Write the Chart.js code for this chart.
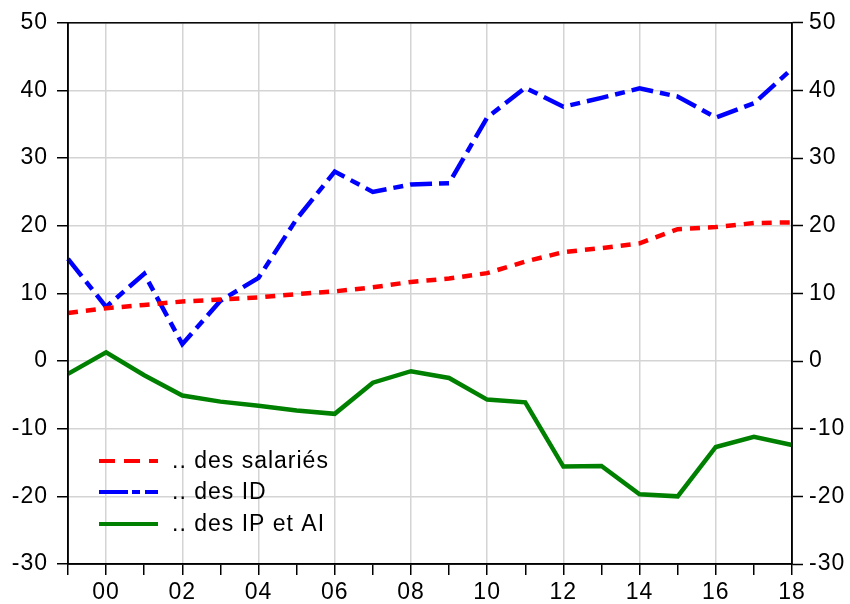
<!DOCTYPE html>
<html>
<head>
<meta charset="utf-8">
<script src="https://cdn.jsdelivr.net/npm/chart.js@4"></script>
<style>
  body { margin: 0; background: #fff; }
  #wrap { width: 850px; height: 604px; }
</style>
</head>
<body>
<div id="wrap"><canvas id="canvas-1" width="850" height="604"></canvas></div>
<script>
var years = ['1999','2000','2001','2002','2003','2004','2005','2006','2007','2008',
             '2009','2010','2011','2012','2013','2014','2015','2016','2017','2018'];

var salaries = [7.1, 7.8, 8.3, 8.8, 9.1, 9.4, 9.9, 10.3, 10.9, 11.7,
                12.2, 13.0, 14.7, 16.1, 16.7, 17.4, 19.5, 19.8, 20.4, 20.5];
var idValues = [15.1, 8.0, 12.9, 2.5, 8.9, 12.3, 21.0, 28.0, 25.0, 26.1,
                26.3, 36.0, 40.4, 37.6, 38.9, 40.3, 39.1, 36.0, 38.1, 43.2];
var ipAi = [-1.9, 1.3, -2.1, -5.1, -6.0, -6.6, -7.3, -7.8, -3.2, -1.5,
            -2.5, -5.7, -6.1, -15.6, -15.5, -19.7, -20.0, -12.7, -11.2, -12.4];

var seriesNames = ['.. des salariés', '.. des ID', '.. des IP et AI'];
var yMin = -30, yMax = 50, yStep = 10;

var font = { family: "'Liberation Sans', Arial, sans-serif", size: 23 };

var frame = {
  id: 'frame',
  beforeDraw: function(chart){
    chart.ctx.letterSpacing = '1px';
  },
  afterDatasetsDraw: function(chart){
    var ctx = chart.ctx, a = chart.chartArea;
    ctx.save();
    ctx.strokeStyle = '#000';
    ctx.lineWidth = 1.5;
    ctx.strokeRect(a.left, a.top, a.right - a.left, a.bottom - a.top);

    // legend inside the plot
    var rows = [
      { c: '#ff0000', dash: [16, 9], y: 461 },
      { c: '#0000ff', dash: [29, 4, 8, 5], y: 492 },
      { c: '#008000', dash: [], y: 524 }
    ];
    ctx.font = font.size + 'px ' + font.family;
    ctx.textBaseline = 'middle';
    ctx.fillStyle = '#000';
    rows.forEach(function(r, i){
      ctx.beginPath();
      ctx.setLineDash(r.dash);
      ctx.strokeStyle = r.c;
      ctx.lineWidth = 4;
      ctx.moveTo(99, r.y);
      ctx.lineTo(158, r.y);
      ctx.stroke();
      ctx.setLineDash([]);
      ctx.fillText(seriesNames[i], 172, r.y + 1);
    });
    ctx.restore();
  }
};

var chart = new Chart(document.getElementById('canvas-1'), {
  type: 'line',
  data: {
    labels: years,
    datasets: [
      { label: seriesNames[0], data: salaries, borderColor: '#ff0000', borderWidth: 4.5, borderDash: [10, 8], pointRadius: 0, tension: 0, yAxisID: 'y' },
      { label: seriesNames[1], data: idValues, borderColor: '#0000ff', borderWidth: 4.5, borderDash: [22, 7, 10, 7], pointRadius: 0, tension: 0, yAxisID: 'y' },
      { label: seriesNames[2], data: ipAi, borderColor: '#008000', borderWidth: 4.5, pointRadius: 0, tension: 0, yAxisID: 'y' }
    ]
  },
  options: {
    responsive: false,
    animation: false,
    layout: { padding: { top: 22, left: 0, right: 0, bottom: 0 } },
    plugins: { legend: { display: false }, tooltip: { enabled: false }, title: { display: false } },
    scales: {
      x: {
        type: 'category',
        offset: false,
        afterFit: function(s){ s.height = 40; },
        border: { display: true, color: '#000', width: 1.5 },
        grid: {
          color: function(c){ return (c.index % 2 == 1 && c.index < years.length - 1) ? '#d4d4d4' : 'rgba(0,0,0,0)'; },
          lineWidth: 1.5,
          tickColor: '#000',
          tickLength: 11,
          tickWidth: 1.5
        },
        ticks: {
          autoSkip: false, maxRotation: 0, minRotation: 0,
          color: '#000', font: font, padding: 4,
          callback: function(v, i){
            var y = years[i];
            return (parseInt(y) % 2 == 0) ? y.slice(2) : '';
          }
        }
      },
      y: {
        position: 'left',
        min: yMin, max: yMax,
        afterFit: function(s){ s.width = 68; },
        border: { display: true, color: '#000', width: 1.5 },
        grid: { color: '#d4d4d4', lineWidth: 1.5, tickColor: '#000', tickLength: 11, tickWidth: 1.5 },
        ticks: { stepSize: yStep, color: '#000', font: font, padding: 9 }
      },
      y2: {
        position: 'right',
        min: yMin, max: yMax,
        afterFit: function(s){ s.width = 58; },
        border: { display: true, color: '#000', width: 1.5 },
        grid: { drawOnChartArea: false, tickColor: '#000', tickLength: 11, tickWidth: 1.5 },
        ticks: { stepSize: yStep, color: '#000', font: font, padding: 6 }
      }
    }
  },
  plugins: [frame]
});
</script>
</body>
</html>
